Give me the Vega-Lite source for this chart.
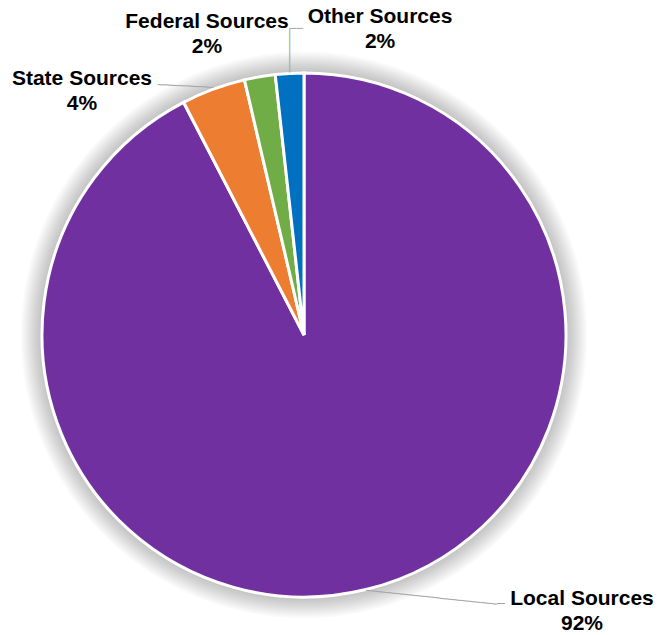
{
  "$schema": "https://vega.github.io/schema/vega-lite/v6.json",
  "width": 524,
  "height": 524,
  "autosize": {"type": "none"},
  "padding": {"left": 42, "top": 73, "right": 91, "bottom": 38},
  "background": "white",
  "config": {"view": {"stroke": null}},
  "data": {
    "values": [
      {"source": "Local Sources", "value": 92.4, "label": "Local Sources\n92%"},
      {"source": "State Sources", "value": 3.95, "label": "State Sources\n4%"},
      {"source": "Federal Sources", "value": 1.9, "label": "Federal Sources\n2%"},
      {"source": "Other Sources", "value": 1.75, "label": "Other Sources\n2%"}
    ]
  },
  "layer": [
    {"transform": [{"aggregate": [{"op": "sum", "field": "value", "as": "total"}]}], "mark": {"type": "arc", "outerRadius": 283, "fill": "#000", "fillOpacity": 0.022}, "encoding": {"theta": {"field": "total", "type": "quantitative"}}},
    {"transform": [{"aggregate": [{"op": "sum", "field": "value", "as": "total"}]}], "mark": {"type": "arc", "outerRadius": 281, "fill": "#000", "fillOpacity": 0.022}, "encoding": {"theta": {"field": "total", "type": "quantitative"}}},
    {"transform": [{"aggregate": [{"op": "sum", "field": "value", "as": "total"}]}], "mark": {"type": "arc", "outerRadius": 279, "fill": "#000", "fillOpacity": 0.022}, "encoding": {"theta": {"field": "total", "type": "quantitative"}}},
    {"transform": [{"aggregate": [{"op": "sum", "field": "value", "as": "total"}]}], "mark": {"type": "arc", "outerRadius": 277, "fill": "#000", "fillOpacity": 0.022}, "encoding": {"theta": {"field": "total", "type": "quantitative"}}},
    {"transform": [{"aggregate": [{"op": "sum", "field": "value", "as": "total"}]}], "mark": {"type": "arc", "outerRadius": 275, "fill": "#000", "fillOpacity": 0.022}, "encoding": {"theta": {"field": "total", "type": "quantitative"}}},
    {"transform": [{"aggregate": [{"op": "sum", "field": "value", "as": "total"}]}], "mark": {"type": "arc", "outerRadius": 273, "fill": "#000", "fillOpacity": 0.022}, "encoding": {"theta": {"field": "total", "type": "quantitative"}}},
    {"transform": [{"aggregate": [{"op": "sum", "field": "value", "as": "total"}]}], "mark": {"type": "arc", "outerRadius": 271, "fill": "#000", "fillOpacity": 0.022}, "encoding": {"theta": {"field": "total", "type": "quantitative"}}},
    {"transform": [{"aggregate": [{"op": "sum", "field": "value", "as": "total"}]}], "mark": {"type": "arc", "outerRadius": 269, "fill": "#000", "fillOpacity": 0.022}, "encoding": {"theta": {"field": "total", "type": "quantitative"}}},
    {"transform": [{"aggregate": [{"op": "sum", "field": "value", "as": "total"}]}], "mark": {"type": "arc", "outerRadius": 267, "fill": "#000", "fillOpacity": 0.022}, "encoding": {"theta": {"field": "total", "type": "quantitative"}}},
    {"transform": [{"aggregate": [{"op": "sum", "field": "value", "as": "total"}]}], "mark": {"type": "arc", "outerRadius": 265, "fill": "#000", "fillOpacity": 0.022}, "encoding": {"theta": {"field": "total", "type": "quantitative"}}},
    {
      "mark": {"type": "arc", "outerRadius": 262, "stroke": "white", "strokeWidth": 3},
      "encoding": {
        "theta": {"field": "value", "type": "quantitative", "stack": true},
        "color": {
          "field": "source",
          "type": "nominal",
          "scale": {
            "domain": ["Local Sources", "State Sources", "Federal Sources", "Other Sources"],
            "range": ["#7030A0", "#ED7D31", "#70AD47", "#0070C0"]
          },
          "legend": null
        },
        "order": {"field": "value", "sort": "descending"}
      }
    },
    {
      "mark": {"type": "text", "radius": 263, "dx": 215.8, "dy": 8, "font": "Liberation Sans", "fontWeight": "bold", "fontSize": 21, "lineBreak": "\n", "lineHeight": 25, "align": "center", "baseline": "middle", "color": "#000"},
      "encoding": {
        "theta": {"field": "value", "type": "quantitative", "stack": true},
        "detail": {"field": "source"},
        "order": {"field": "value", "sort": "descending"},
        "text": {"condition": {"test": "datum.source === 'Local Sources'", "field": "label"}, "value": ""}
      }
    },
    {
      "mark": {"type": "text", "radius": 263, "dx": -131, "dy": -9, "font": "Liberation Sans", "fontWeight": "bold", "fontSize": 21, "lineBreak": "\n", "lineHeight": 25, "align": "center", "baseline": "middle", "color": "#000"},
      "encoding": {
        "theta": {"field": "value", "type": "quantitative", "stack": true},
        "detail": {"field": "source"},
        "order": {"field": "value", "sort": "descending"},
        "text": {"condition": {"test": "datum.source === 'State Sources'", "field": "label"}, "value": ""}
      }
    },
    {
      "mark": {"type": "text", "radius": 263, "dx": -52.6, "dy": -53.5, "font": "Liberation Sans", "fontWeight": "bold", "fontSize": 21, "lineBreak": "\n", "lineHeight": 25, "align": "center", "baseline": "middle", "color": "#000"},
      "encoding": {
        "theta": {"field": "value", "type": "quantitative", "stack": true},
        "detail": {"field": "source"},
        "order": {"field": "value", "sort": "descending"},
        "text": {"condition": {"test": "datum.source === 'Federal Sources'", "field": "label"}, "value": ""}
      }
    },
    {
      "mark": {"type": "text", "radius": 263, "dx": 90.5, "dy": -55.5, "font": "Liberation Sans", "fontWeight": "bold", "fontSize": 21, "lineBreak": "\n", "lineHeight": 25, "align": "center", "baseline": "middle", "color": "#000"},
      "encoding": {
        "theta": {"field": "value", "type": "quantitative", "stack": true},
        "detail": {"field": "source"},
        "order": {"field": "value", "sort": "descending"},
        "text": {"condition": {"test": "datum.source === 'Other Sources'", "field": "label"}, "value": ""}
      }
    },
    {
      "mark": {"type": "text", "radius": 263, "angle": 6, "font": "DejaVu Sans", "fontSize": 12.1, "align": "left", "baseline": "middle", "color": "#A6A6A6"},
      "encoding": {
        "theta": {"field": "value", "type": "quantitative", "stack": true},
        "detail": {"field": "source"},
        "order": {"field": "value", "sort": "descending"},
        "text": {"condition": {"test": "datum.source === 'Local Sources'", "value": "──────────────────"}, "value": ""}
      }
    },
    {
      "mark": {"type": "text", "radius": 263, "dx": 130.8, "dy": 13.8, "font": "DejaVu Sans", "fontSize": 13, "align": "left", "baseline": "middle", "color": "#A6A6A6"},
      "encoding": {
        "theta": {"field": "value", "type": "quantitative", "stack": true},
        "detail": {"field": "source"},
        "order": {"field": "value", "sort": "descending"},
        "text": {"condition": {"test": "datum.source === 'Local Sources'", "value": "─"}, "value": ""}
      }
    },
    {
      "mark": {"type": "text", "radius": 263, "angle": 2.9, "font": "DejaVu Sans", "fontSize": 11.5, "align": "right", "baseline": "middle", "color": "#A6A6A6"},
      "encoding": {
        "theta": {"field": "value", "type": "quantitative", "stack": true},
        "detail": {"field": "source"},
        "order": {"field": "value", "sort": "descending"},
        "text": {"condition": {"test": "datum.source === 'State Sources'", "value": "────────"}, "value": ""}
      }
    },
    {
      "mark": {"type": "text", "radius": 263, "angle": 270, "font": "DejaVu Sans", "fontSize": 12, "align": "left", "baseline": "middle", "color": "#A6A6A6"},
      "encoding": {
        "theta": {"field": "value", "type": "quantitative", "stack": true},
        "detail": {"field": "source"},
        "order": {"field": "value", "sort": "descending"},
        "text": {"condition": {"test": "datum.source === 'Other Sources'", "value": "──────"}, "value": ""}
      }
    },
    {
      "mark": {"type": "text", "radius": 263, "dy": -43.4, "font": "DejaVu Sans", "fontSize": 11.2, "align": "left", "baseline": "middle", "color": "#A6A6A6"},
      "encoding": {
        "theta": {"field": "value", "type": "quantitative", "stack": true},
        "detail": {"field": "source"},
        "order": {"field": "value", "sort": "descending"},
        "text": {"condition": {"test": "datum.source === 'Other Sources'", "value": "──"}, "value": ""}
      }
    }
  ]
}
